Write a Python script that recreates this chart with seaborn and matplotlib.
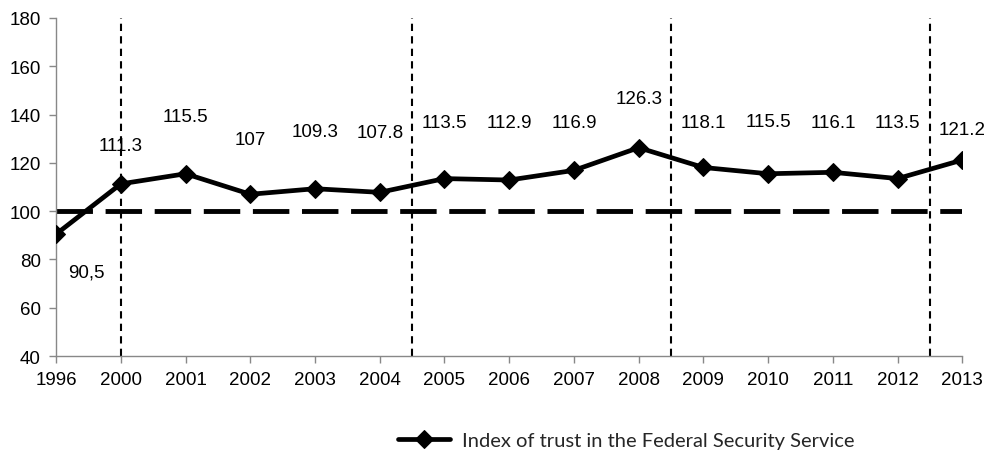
import numpy as np
import pandas as pd
import matplotlib
matplotlib.use('Agg')
import matplotlib.pyplot as plt
import seaborn as sns

# data
years = ['1996', '2000', '2001', '2002', '2003', '2004', '2005', '2006',
         '2007', '2008', '2009', '2010', '2011', '2012', '2013']
trust_index = [90.5, 111.3, 115.5, 107, 109.3, 107.8, 113.5, 112.9,
               116.9, 126.3, 118.1, 115.5, 116.1, 113.5, 121.2]
value_labels = ['90,5', '111.3', '115.5', '107', '109.3', '107.8', '113.5', '112.9',
                '116.9', '126.3', '118.1', '115.5', '116.1', '113.5', '121.2']
baseline = 100
period_breaks = [1, 5.5, 9.5, 13.5]  # dotted separators (category positions)

# label placement (pixels from the marker), as in the original
label_dx = [30, 0, 0, 0, 0, 0, 0, 0, 0, 0, 0, 0, 0, 0, 0]
label_dy = [-38, 38, 57, 55, 57, 60, 56, 58, 48, 49, 45, 52, 50, 56, 30]

df = pd.DataFrame({'pos': np.arange(len(years)), 'year': years, 'value': trust_index})

sns.set_style('white')
plt.rcParams['font.family'] = ['Liberation Sans', 'DejaVu Sans']

fig = plt.figure(figsize=(9.84, 4.52), dpi=100)
ax = fig.add_axes([0.057, 0.21, 0.921, 0.748])

ax.axhline(baseline, color='black', lw=3.5, dashes=(7.5, 2.6), zorder=1)
for xb in period_breaks:
    ax.axvline(xb, color='black', lw=1.5, dashes=(3.5, 2.5), zorder=1)

sns.lineplot(data=df, x='pos', y='value', ax=ax, color='black', lw=3.4,
             marker='D', markersize=9.5, markeredgecolor='black',
             label='Index of trust in the Federal Security Service', legend=False, zorder=3)

for i, (v, lab) in enumerate(zip(trust_index, value_labels)):
    ax.annotate(lab, (i, v), xytext=(label_dx[i], label_dy[i]), textcoords='offset pixels',
                ha='center', va='center', fontsize=13.5, color='black')

ax.set_xlim(0, len(years) - 1)
ax.set_ylim(40, 180)
ax.set_yticks(range(40, 181, 20))
ax.set_xticks(df['pos'])
ax.set_xticklabels(years)
ax.set_xlabel('')
ax.set_ylabel('')
ax.tick_params(axis='both', labelsize=13.5, length=5, width=1, color='#888888',
               direction='out', left=True, bottom=True, labelcolor='black', pad=6)
for s in ['top', 'right']:
    ax.spines[s].set_visible(False)
for s in ['left', 'bottom']:
    ax.spines[s].set_color('#888888')
    ax.spines[s].set_linewidth(1)

handles, labels = ax.get_legend_handles_labels()
leg = fig.legend(handles, labels, loc='center', bbox_to_anchor=(626 / 984, 1 - 441 / 452),
                 frameon=False, handlelength=2.6, handletextpad=0.6,
                 prop={'family': 'Lato', 'size': 14.5})

fig.savefig('out.png', dpi=100)
